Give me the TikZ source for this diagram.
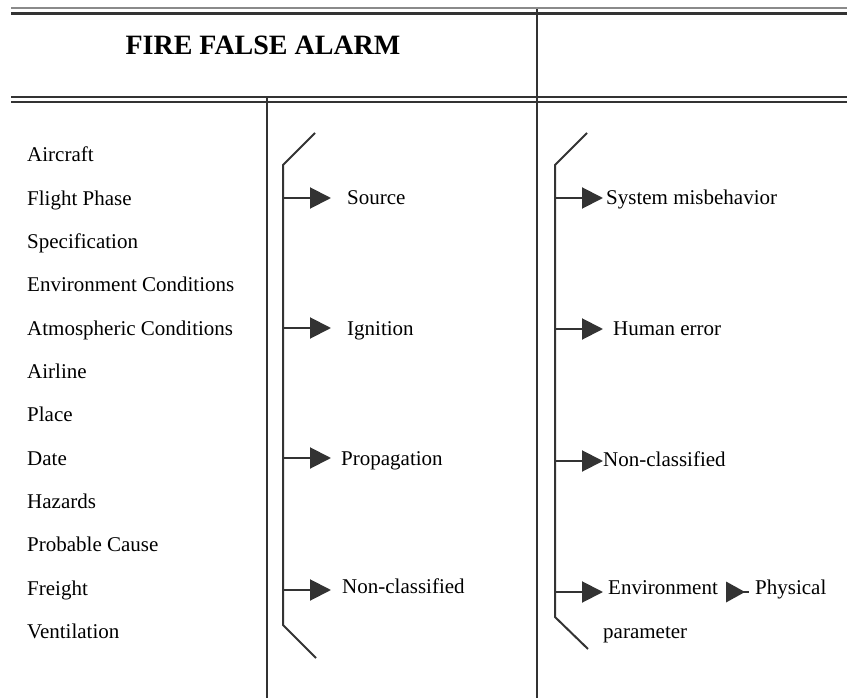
\documentclass[tikz,border=0pt]{standalone}
\usepackage{fontspec}
\setmainfont{Liberation Serif}
\usetikzlibrary{arrows.meta}
\definecolor{ink}{HTML}{333333}
\definecolor{lightink}{HTML}{8A8A8A}
\begin{document}
\begin{tikzpicture}[x=1pt,y=-1pt,
  lbl/.style={anchor=base west,inner sep=0pt,font=\fontsize{21}{25}\selectfont},
  rule/.style={draw=ink,line width=2pt},
  brk/.style={draw=ink,line width=2pt,line join=miter},
  arr/.style={draw=ink,line width=2pt,-{Triangle[length=21pt,width=21pt]},ink}]
\useasboundingbox (0,0) rectangle (847,698);
% table rules
\draw[lightink,line width=2pt] (11,8.5) -- (847,8.5);
\draw[ink,line width=3pt] (11,14) -- (847,14);
\draw[ink,line width=2.5pt] (11,97) -- (847,97);
\draw[ink,line width=2.5pt] (11,102) -- (847,102);
\draw[rule] (537,9) -- (537,698);
\draw[rule] (267,98) -- (267,698);
% title
\node[anchor=base,inner sep=0pt,font=\fontsize{28}{32}\selectfont\bfseries] (title) at (263,55) {FIRE FALSE ALARM};
% left column
\foreach \t [count=\i from 0] in {Aircraft,Flight Phase,Specification,Environment Conditions,Atmospheric Conditions,Airline,Place,Date,Hazards,Probable Cause,Freight,Ventilation}
  \node[lbl] (l\i) at (27,162+43.3*\i) {\t};
% bracket 1
\coordinate (b1a) at (315,133);
\coordinate (b1b) at (283,165);
\coordinate (b1c) at (283,625);
\coordinate (b1d) at (316,658);
\draw[brk] (b1a) -- (b1b) -- (b1c) -- (b1d);
% bracket 2
\coordinate (b2a) at (587,133);
\coordinate (b2b) at (555,165);
\coordinate (b2c) at (555,617);
\coordinate (b2d) at (588,649);
\draw[brk] (b2a) -- (b2b) -- (b2c) -- (b2d);
% middle labels
\node[lbl] (src) at (347,205) {Source};
\node[lbl] (ign) at (347,335) {Ignition};
\node[lbl] (prop) at (341,465) {Propagation};
\node[lbl] (nc1) at (342,593) {Non-classified};
\foreach \y/\n in {198/1,328/2,458/3,590/4}{
  \coordinate (s\n) at (283,\y);
  \coordinate (t\n) at (331,\y);
  \draw[arr] (s\n) -- (t\n);
}
% right labels
\node[lbl] (sys) at (606,205) {System misbehavior};
\node[lbl] (hum) at (613,335) {Human error};
\node[lbl] (nc2) at (603,466) {Non-classified};
\node[lbl] (env) at (608,594) {Environment};
\node[lbl] (phy) at (755,594) {Physical};
\node[lbl] (par) at (603,638) {parameter};
\foreach \y/\n in {198/1,329/2,461/3,592/4}{
  \coordinate (u\n) at (555,\y);
  \coordinate (v\n) at (603,\y);
  \draw[arr] (u\n) -- (v\n);
}
% small arrow between Environment and Physical
\coordinate (p1) at (726,592);
\coordinate (p2) at (749,592);
\fill[ink] (726,581.5) -- (745,592) -- (726,602.5) -- cycle;
\draw[ink,line width=1.5pt] (740,592) -- (p2);
\end{tikzpicture}
\end{document}
